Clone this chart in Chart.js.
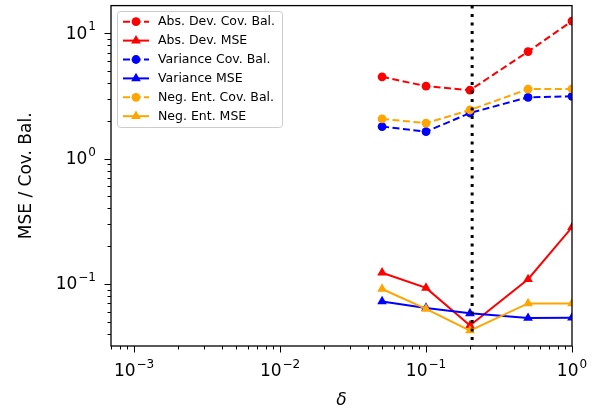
<!DOCTYPE html>
<html>
<head>
<meta charset="utf-8">
<script src="https://cdn.jsdelivr.net/npm/chart.js@4/dist/chart.umd.min.js"></script>
<style>
  html, body { margin: 0; padding: 0; background: #fff; }
  canvas { display: block; }
</style>
</head>
<body>
<canvas id="c" width="596" height="418"></canvas>
<script>
// valeurs
const deltas = [0.05, 0.1, 0.2, 0.5, 1];
const absDevCovBal = [4.49, 3.78, 3.51, 7.13, 12.5];
const absDevMse = [0.123, 0.093, 0.0466, 0.109, 0.283];
const varCovBal = [1.80, 1.64, 2.31, 3.08, 3.14];
const varMse = [0.0726, 0.0644, 0.0583, 0.0535, 0.0538];
const negEntCovBal = [2.07, 1.92, 2.44, 3.58, 3.59];
const negEntMse = [0.0912, 0.0632, 0.0425, 0.070, 0.070];
const seriesLabels = [
    "Abs. Dev. Cov. Bal.", "Abs. Dev. MSE",
    "Variance Cov. Bal.", "Variance MSE",
    "Neg. Ent. Cov. Bal.", "Neg. Ent. MSE",
];
const chosenDelta = 0.207;
const xTickValues = [1e-3, 1e-2, 1e-1, 1];
const xTickExps = ["\u22123", "\u22122", "\u22121", "0"];
const yTickValues = [0.1, 1, 10];
const yTickExps = ["\u22121", "0", "1"];
const xLabel = "\u03b4";
const yLabel = "MSE / Cov. Bal.";

const RED = "#ff0000", BLUE = "#0000ff", ORANGE = "#ffa500";
const FONT = "'DejaVu Sans', sans-serif";

function serie(label, values, color, covBal) {
    return {
        label: label,
        data: deltas.map((d, i) => ({ x: d, y: values[i] })),
        borderColor: color,
        backgroundColor: color,
        borderWidth: 2,
        borderDash: covBal ? [7, 3.5] : [],
        pointStyle: covBal ? "circle" : "triangle",
        pointRadius: covBal ? 4.4 : 5.6,
        pointBorderWidth: 0,
        pointBackgroundColor: color,
        tension: 0,
        clip: 0,
    };
}

const datasets = [
    serie(seriesLabels[0], absDevCovBal, RED, true),
    serie(seriesLabels[1], absDevMse, RED, false),
    serie(seriesLabels[2], varCovBal, BLUE, true),
    serie(seriesLabels[3], varMse, BLUE, false),
    serie(seriesLabels[4], negEntCovBal, ORANGE, true),
    serie(seriesLabels[5], negEntMse, ORANGE, false),
];
// le dernier tracé passe au-dessus, comme dans matplotlib
datasets.forEach((ds, i) => { ds.order = datasets.length - i; });

function drawPow(ctx, exp, x, y, align) {
    ctx.font = "17px " + FONT;
    const wBase = ctx.measureText("10").width;
    ctx.font = "12px " + FONT;
    const wExp = ctx.measureText(exp).width;
    const total = wBase + 1 + wExp;
    let x0 = x;
    if (align === "center") x0 = x - total / 2;
    if (align === "right") x0 = x - total;
    ctx.fillStyle = "#000";
    ctx.textAlign = "left";
    ctx.textBaseline = "middle";
    ctx.font = "17px " + FONT;
    ctx.fillText("10", x0, y);
    ctx.font = "12px " + FONT;
    ctx.fillText(exp, x0 + wBase + 1, y - 7);
}

const axesPlugin = {
    id: "axesMpl",
    afterDatasetsDraw(chart) {
        const ctx = chart.ctx;
        const a = chart.chartArea;
        const xs = chart.scales.x;
        // ligne verticale pointillée
        const px = xs.getPixelForValue(chosenDelta);
        ctx.save();
        ctx.strokeStyle = "#000";
        ctx.lineWidth = 3;
        ctx.setLineDash([3, 5.5]);
        ctx.beginPath();
        ctx.moveTo(px, a.top);
        ctx.lineTo(px, a.bottom);
        ctx.stroke();
        ctx.restore();
    },
    afterDraw(chart) {
        const ctx = chart.ctx;
        const a = chart.chartArea;
        const xs = chart.scales.x, ys = chart.scales.y;
        ctx.save();
        ctx.strokeStyle = "#000";
        ctx.lineWidth = 1.3;
        ctx.strokeRect(a.left, a.top, a.right - a.left, a.bottom - a.top);

        // graduations majeures et mineures
        ctx.lineWidth = 1;
        for (let k = -4; k <= 1; k++) {
            for (let m = 1; m <= 9; m++) {
                const v = m * Math.pow(10, k);
                const len = m === 1 ? 6.5 : 3.5;
                if (v >= xs.min && v <= xs.max) {
                    const p = Math.round(xs.getPixelForValue(v)) + 0.5;
                    ctx.beginPath();
                    ctx.moveTo(p, a.bottom);
                    ctx.lineTo(p, a.bottom + len);
                    ctx.stroke();
                }
                if (v >= ys.min && v <= ys.max) {
                    const p = Math.round(ys.getPixelForValue(v)) + 0.5;
                    ctx.beginPath();
                    ctx.moveTo(a.left, p);
                    ctx.lineTo(a.left - len, p);
                    ctx.stroke();
                }
            }
        }

        xTickValues.forEach((v, i) => {
            drawPow(ctx, xTickExps[i], xs.getPixelForValue(v), 372, "center");
        });
        yTickValues.forEach((v, i) => {
            drawPow(ctx, yTickExps[i], 96, ys.getPixelForValue(v) + 1, "right");
        });

        // titres des axes
        ctx.fillStyle = "#000";
        ctx.textAlign = "center";
        ctx.textBaseline = "middle";
        ctx.font = "italic 17px " + FONT;
        ctx.fillText(xLabel, (a.left + a.right) / 2, 401);
        ctx.save();
        ctx.translate(27, (a.top + a.bottom) / 2);
        ctx.rotate(-Math.PI / 2);
        ctx.font = "17px " + FONT;
        ctx.fillText(yLabel, 0, 0);
        ctx.restore();

        // légende
        const lx = 117, ly = 11, lw = 165, lh = 116;
        ctx.fillStyle = "rgba(255,255,255,0.8)";
        ctx.strokeStyle = "#cccccc";
        ctx.lineWidth = 1;
        ctx.beginPath();
        ctx.roundRect(lx + 0.5, ly + 0.5, lw, lh, 3);
        ctx.fill();
        ctx.stroke();
        chart.data.datasets.forEach((ds, i) => {
            const y = 21.7 + i * 18.9;
            ctx.strokeStyle = ds.borderColor;
            ctx.fillStyle = ds.borderColor;
            ctx.lineWidth = 2;
            ctx.setLineDash(ds.borderDash);
            ctx.beginPath();
            ctx.moveTo(123, y);
            ctx.lineTo(149, y);
            ctx.stroke();
            ctx.setLineDash([]);
            Chart.helpers.drawPoint(ctx, {
                pointStyle: ds.pointStyle, radius: ds.pointRadius,
                rotation: 0, borderWidth: 0,
            }, 136, y);
            ctx.fillStyle = "#000";
            ctx.textAlign = "left";
            ctx.textBaseline = "middle";
            ctx.font = "12.5px " + FONT;
            ctx.fillText(ds.label, 158, y + 0.5);
        });
        ctx.restore();
    },
};

new Chart(document.getElementById("c").getContext("2d"), {
    type: "line",
    data: { datasets: datasets },
    options: {
        responsive: false,
        devicePixelRatio: 1,
        animation: false,
        layout: { padding: { left: 111, right: 24, top: 5, bottom: 72 } },
        plugins: { legend: { display: false }, tooltip: { enabled: false } },
        scales: {
            x: { type: "logarithmic", min: 6.95e-4, max: 1, display: false },
            y: { type: "logarithmic", min: 0.032, max: 16.6, display: false },
        },
    },
    plugins: [axesPlugin],
});
</script>
</body>
</html>
